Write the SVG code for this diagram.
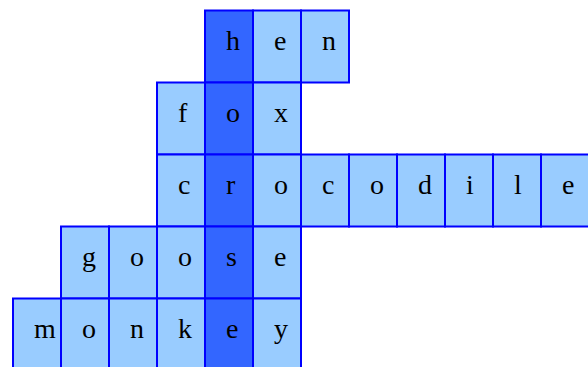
<svg xmlns="http://www.w3.org/2000/svg" width="588" height="367" viewBox="0 0 588 367">
<style>
rect{stroke:#0000ff;stroke-width:2}
.l{fill:#99ccff}
.d{fill:#3366ff}
text{font-family:"Liberation Serif","Times New Roman",serif;font-size:28px;fill:#000}
</style>
<rect width="588" height="367" fill="#fff" style="stroke:none"/>
<g id="hen">
<rect class="d" x="205" y="10.5" width="48" height="72"/><text x="226" y="49.5">h</text>
<rect class="l" x="253" y="10.5" width="48" height="72"/><text x="274" y="49.5">e</text>
<rect class="l" x="301" y="10.5" width="48" height="72"/><text x="322" y="49.5">n</text>
</g>
<g id="fox">
<rect class="l" x="157" y="82.5" width="48" height="72"/><text x="178" y="121.5">f</text>
<rect class="d" x="205" y="82.5" width="48" height="72"/><text x="226" y="121.5">o</text>
<rect class="l" x="253" y="82.5" width="48" height="72"/><text x="274" y="121.5">x</text>
</g>
<g id="crocodile">
<rect class="l" x="157" y="154.5" width="48" height="72"/><text x="178" y="193.5">c</text>
<rect class="d" x="205" y="154.5" width="48" height="72"/><text x="226" y="193.5">r</text>
<rect class="l" x="253" y="154.5" width="48" height="72"/><text x="274" y="193.5">o</text>
<rect class="l" x="301" y="154.5" width="48" height="72"/><text x="322" y="193.5">c</text>
<rect class="l" x="349" y="154.5" width="48" height="72"/><text x="370" y="193.5">o</text>
<rect class="l" x="397" y="154.5" width="48" height="72"/><text x="418" y="193.5">d</text>
<rect class="l" x="445" y="154.5" width="48" height="72"/><text x="466" y="193.5">i</text>
<rect class="l" x="493" y="154.5" width="48" height="72"/><text x="514" y="193.5">l</text>
<rect class="l" x="541" y="154.5" width="48" height="72"/><text x="562" y="193.5">e</text>
</g>
<g id="goose">
<rect class="l" x="61" y="226.5" width="48" height="72"/><text x="82" y="265.5">g</text>
<rect class="l" x="109" y="226.5" width="48" height="72"/><text x="130" y="265.5">o</text>
<rect class="l" x="157" y="226.5" width="48" height="72"/><text x="178" y="265.5">o</text>
<rect class="d" x="205" y="226.5" width="48" height="72"/><text x="226" y="265.5">s</text>
<rect class="l" x="253" y="226.5" width="48" height="72"/><text x="274" y="265.5">e</text>
</g>
<g id="monkey">
<rect class="l" x="13" y="298.5" width="48" height="72"/><text x="34" y="337.5">m</text>
<rect class="l" x="61" y="298.5" width="48" height="72"/><text x="82" y="337.5">o</text>
<rect class="l" x="109" y="298.5" width="48" height="72"/><text x="130" y="337.5">n</text>
<rect class="l" x="157" y="298.5" width="48" height="72"/><text x="178" y="337.5">k</text>
<rect class="d" x="205" y="298.5" width="48" height="72"/><text x="226" y="337.5">e</text>
<rect class="l" x="253" y="298.5" width="48" height="72"/><text x="274" y="337.5">y</text>
</g>
</svg>
